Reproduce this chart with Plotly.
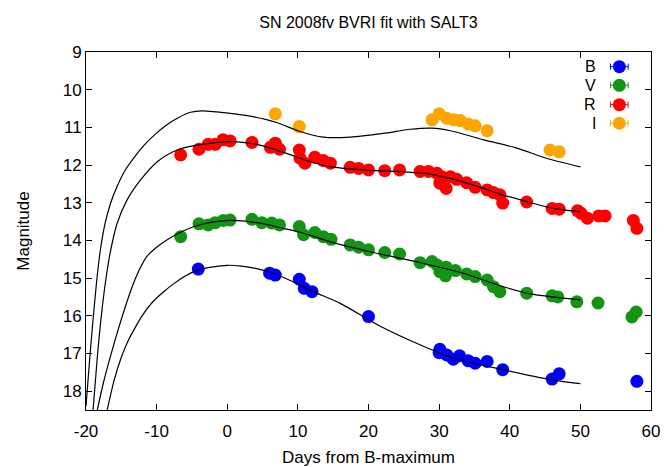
import plotly.graph_objects as go

# Photometry of SN 2008fv (days from B maximum, magnitude)
b_days = [-4.1, 6.0, 6.8, 10.2, 10.9, 12.0, 20.0, 30.1, 30.0, 31.1, 32.0, 32.9, 34.1, 35.1, 36.8, 39.0, 46.0, 47.0, 58.0]
b_mag = [14.76, 14.87, 14.92, 15.03, 15.27, 15.36, 16.02, 16.89, 16.98, 17.04, 17.15, 17.06, 17.19, 17.26, 17.21, 17.43, 17.68, 17.54, 17.74]

v_days = [-6.6, -4.0, -2.7, -1.7, -0.55, 0.4, 3.5, 4.9, 6.3, 7.4, 10.2, 10.8, 12.4, 13.6, 14.7, 17.4, 18.6, 20.0,
          22.3, 24.4, 27.3, 29.0, 29.7, 30.1, 30.9, 31.0, 32.3, 33.9, 35.1, 36.8, 37.7, 38.6, 42.4, 46.0, 46.8, 49.5,
          52.5, 57.3, 57.9]
v_mag = [13.9, 13.56, 13.59, 13.53, 13.47, 13.46, 13.44, 13.53, 13.54, 13.59, 13.63, 13.85, 13.79, 13.9, 13.97, 14.12,
         14.18, 14.25, 14.32, 14.36, 14.59, 14.56, 14.65, 14.83, 14.94, 14.71, 14.8, 14.89, 14.96, 15.05, 15.23, 15.36,
         15.4, 15.47, 15.5, 15.63, 15.66, 16.03, 15.9]

r_days = [-6.6, -4.0, -2.7, -1.7, -0.6, 0.4, 3.5, 6.1, 6.8, 7.4, 10.2, 10.3, 11.0, 12.4, 13.6, 14.6, 17.4, 18.6, 20.0,
          22.3, 24.4, 27.3, 28.5, 29.7, 30.1, 30.4, 31.0, 31.6, 32.5, 33.9, 35.1, 36.8, 37.7, 38.6, 39.0, 42.4, 46.0,
          47.0, 49.6, 50.1, 51.0, 52.6, 53.5, 57.5, 58.0]
r_mag = [11.73, 11.58, 11.45, 11.45, 11.33, 11.36, 11.4, 11.53, 11.42, 11.58, 11.6, 11.82, 11.95, 11.79, 11.88, 11.95,
         12.06, 12.09, 12.13, 12.15, 12.13, 12.17, 12.17, 12.22, 12.48, 12.31, 12.62, 12.31, 12.38, 12.47, 12.59, 12.66,
         12.73, 12.79, 13.01, 12.98, 13.15, 13.17, 13.21, 13.28, 13.41, 13.35, 13.35, 13.47, 13.68]

i_days = [6.8, 10.2, 29.0, 30.0, 31.1, 32.1, 33.0, 34.1, 35.1, 36.8, 45.7, 47.0]
i_mag = [10.64, 10.98, 10.8, 10.64, 10.76, 10.8, 10.82, 10.91, 10.96, 11.09, 11.6, 11.65]

# SALT3 model light curves sampled per band
b_fit_days = [-17.0, -16.0, -15.0, -14.0, -13.0, -12.0, -10.5, -9.0, -7.5, -6.0, -4.2, -2.0, 0.0, 2.0, 4.0, 6.5, 9.0,
              12.2, 16.0, 21.6, 27.3, 32.0, 39.0, 46.0, 50.0]
b_fit_mag = [18.5, 17.7, 17.1, 16.65, 16.3, 15.98, 15.62, 15.36, 15.14, 14.95, 14.79, 14.7, 14.66, 14.68, 14.74, 14.87,
             15.07, 15.36, 15.67, 16.27, 16.77, 17.12, 17.43, 17.7, 17.8]

v_fit_days = [-18.4, -17.5, -16.5, -15.5, -14.5, -13.5, -12.5, -11.4, -10.0, -8.5, -6.7, -4.7, -2.0, 0.5, 4.2, 7.9,
              10.8, 15.0, 20.7, 27.3, 33.4, 39.1, 42.9, 50.0]
v_fit_mag = [18.5, 17.75, 17.05, 16.4, 15.8, 15.25, 14.8, 14.43, 14.18, 13.98, 13.79, 13.63, 13.51, 13.47, 13.53, 13.68,
             13.81, 14.06, 14.32, 14.59, 14.87, 15.23, 15.42, 15.58]

r_fit_days = [-19.0, -18.4, -17.8, -17.2, -16.6, -15.6, -14.2, -12.3, -9.9, -7.1, -4.2, -1.4, 1.0, 4.6, 8.4, 11.2, 14.6,
              19.3, 24.0, 28.7, 32.5, 36.3, 38.6, 42.4, 46.2, 50.0]
r_fit_mag = [18.5, 17.1, 15.95, 15.05, 14.35, 13.55, 12.93, 12.4, 11.91, 11.6, 11.47, 11.4, 11.38, 11.47, 11.69, 11.88,
             12.04, 12.13, 12.17, 12.24, 12.4, 12.62, 12.77, 12.97, 13.15, 13.24]

i_fit_days = [-20.0, -19.5, -19.0, -18.5, -18.0, -17.3, -16.5, -15.6, -14.5, -13.2, -11.8, -10.3, -8.7, -7.0, -5.2,
              -3.6, -1.5, 1.0, 3.2, 7.0, 10.3, 13.6, 17.4, 22.1, 25.9, 29.0, 31.6, 36.3, 41.0, 45.2, 50.0]
i_fit_mag = [18.4, 17.2, 16.1, 15.1, 14.3, 13.55, 13.0, 12.57, 12.15, 11.8, 11.48, 11.2, 10.95, 10.75, 10.6, 10.56,
             10.59, 10.64, 10.7, 10.87, 11.11, 11.26, 11.26, 11.16, 11.05, 11.02, 11.09, 11.33, 11.55, 11.82, 12.05]

bands = ["B", "V", "R", "I"]
band_colors = ["#0000ff", "#149414", "#ff0000", "#ffa500"]
obs = [(b_days, b_mag), (v_days, v_mag), (r_days, r_mag), (i_days, i_mag)]
fits = [(b_fit_days, b_fit_mag), (v_fit_days, v_fit_mag), (r_fit_days, r_fit_mag), (i_fit_days, i_fit_mag)]

x_ticks = [-20, -10, 0, 10, 20, 30, 40, 50, 60]
y_ticks = [9, 10, 11, 12, 13, 14, 15, 16, 17, 18]

FONT = "Liberation Sans, Arial, sans-serif"

fig = go.Figure()

for name, col, (d, m) in zip(bands, band_colors, obs):
    fig.add_trace(go.Scatter(x=d, y=m, mode="markers", name=name, showlegend=False,
                             marker=dict(color=col, size=13, line=dict(width=0))))

for d, m in fits:
    fig.add_trace(go.Scatter(x=d, y=m, mode="lines", showlegend=False, hoverinfo="skip",
                             line=dict(color="black", width=1.2, shape="spline", smoothing=0.8)))

# key in the upper right corner: label, then a marker with an error bar
key_y = [0.959, 0.907, 0.853, 0.801]
for name, col, ky in zip(bands, band_colors, key_y):
    fig.add_trace(go.Scatter(x=[0.944], y=[ky], xaxis="x2", yaxis="y2", mode="markers", showlegend=False,
                             hoverinfo="skip",
                             marker=dict(color=col, size=13, line=dict(width=0)),
                             error_x=dict(type="constant", value=0.0156, color=col, thickness=1, width=3)))
    fig.add_annotation(x=0.906, y=ky, xref="x2", yref="y2", text=name, showarrow=False,
                       xanchor="right", yanchor="middle", font=dict(family=FONT, size=16, color="black"))

axis_common = dict(showgrid=False, zeroline=False, showline=True, linecolor="black", linewidth=1,
                   mirror="ticks", ticks="inside", ticklen=6, tickcolor="black", tickwidth=1,
                   automargin=False, tickfont=dict(family=FONT, size=17, color="black"))

fig.update_layout(
    width=670, height=467,
    margin=dict(l=86, r=19, t=52, b=57),
    plot_bgcolor="white", paper_bgcolor="white",
    title=dict(text="SN 2008fv BVRI fit with SALT3", x=0.55, xanchor="center", y=0.953, yanchor="middle",
               font=dict(family=FONT, size=16, color="black")),
    xaxis=dict(range=[-20, 60], tickvals=x_ticks, ticktext=[str(v) for v in x_ticks], ticklabelstandoff=6,
               title=dict(text="Days from B-maximum", font=dict(family=FONT, size=17, color="black"), standoff=12),
               **axis_common),
    yaxis=dict(range=[18.5, 9], tickvals=y_ticks, ticktext=[str(v) for v in y_ticks],
               title=dict(text="Magnitude", font=dict(family=FONT, size=17, color="black"), standoff=28),
               **axis_common),
    xaxis2=dict(domain=[0, 1], range=[0, 1], overlaying="x", visible=False, fixedrange=True),
    yaxis2=dict(domain=[0, 1], range=[0, 1], overlaying="y", visible=False, fixedrange=True, anchor="x2"),
)

fig.write_html("out.html")
